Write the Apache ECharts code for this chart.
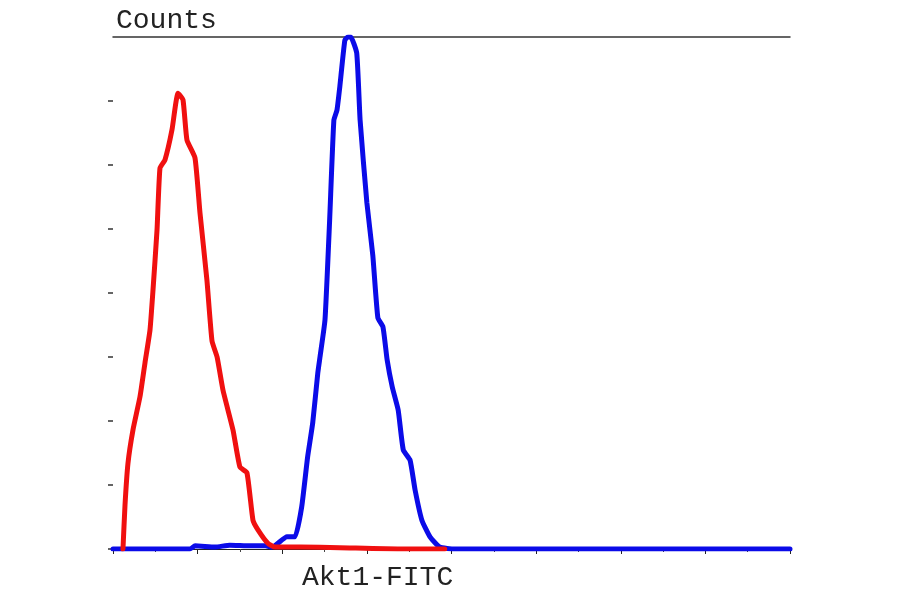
<!DOCTYPE html>
<html>
<head>
<meta charset="utf-8">
<title>Akt1-FITC</title>
<script src="https://cdn.jsdelivr.net/npm/echarts@6/dist/echarts.min.js"></script>
<style>
  html, body { margin: 0; padding: 0; background: #fff; }
  #chart { width: 900px; height: 594px; }
</style>
</head>
<body>
<div id="chart"></div>
<script>
// fluorescence (arbitrary units, 0-800) vs counts (0-800)
const redX = [11.8, 14.2, 17.7, 23.6, 31.9, 37.8, 43.7, 47.3, 52, 55.5, 61.4, 69.7, 76.8, 82.7, 87.4, 96.9,
  102.8, 111, 117, 123, 130, 141.8, 150, 158.3, 165.4, 171.3, 183, 191.4, 221, 268, 339, 392];
const redY = [0, 69, 134, 186, 238, 291, 342, 405, 498, 595, 608, 655, 712, 702, 639, 611,
  525, 420, 325, 300, 248, 186, 128, 119, 45, 30, 9, 3, 3, 2, 0, 0];

const blueX = [0, 91, 97, 120.5, 138, 162, 180, 188, 205.6, 215, 223, 230, 236, 242, 244.6, 250.5,
  256, 261, 264.7, 268, 274, 277.7, 281, 288, 292, 300, 307, 313, 319, 324, 330, 337, 343, 351,
  357, 365, 374.6, 386, 404, 800];
const blueY = [0, 0, 5, 3, 6, 5, 5, 3, 19, 19, 66, 144, 197, 275, 300, 358,
  514, 670, 686, 722, 795, 800, 800, 775, 670, 541, 459, 361, 347, 295, 253, 217, 155, 139,
  92, 45, 19, 3, 0, 0];

// count ticks on the left, the top one is left off
const yTickValues = [0, 100, 200, 300, 400, 500, 600, 700];
const xTicks = 100;

const pairs = (xs, ys) => xs.map((x, i) => [x, ys[i]]);

const chart = echarts.init(document.getElementById('chart'));

const option = {
  animation: false,
  backgroundColor: '#fff',
  grid: { left: 113, right: 110, top: 37, bottom: 45 },
  xAxis: [
    {
      type: 'value',
      min: 0,
      max: 800,
      interval: xTicks,
      position: 'bottom',
      axisLine: { show: true, lineStyle: { color: '#222', width: 1 } },
      axisTick: { show: true, length: 5, lineStyle: { color: '#222', width: 1 } },
      minorTick: { show: true, splitNumber: 2, length: 3, lineStyle: { color: '#444', width: 1 } },
      axisLabel: { show: false },
      splitLine: { show: false }
    },
    {
      type: 'value',
      min: 0,
      max: 800,
      position: 'top',
      axisLine: { show: true, lineStyle: { color: '#333', width: 1.5 } },
      axisTick: { show: false },
      axisLabel: { show: false },
      splitLine: { show: false }
    }
  ],
  yAxis: {
    type: 'value',
    min: 0,
    max: 800,
    interval: 100,
    axisLine: { show: false },
    axisTick: { show: true, length: 5, customValues: yTickValues, lineStyle: { color: '#333', width: 1.5 } },
    axisLabel: { show: false },
    splitLine: { show: false }
  },
  series: [
    {
      name: 'Akt1',
      type: 'line',
      data: pairs(blueX, blueY),
      showSymbol: false,
      smooth: 0.15,
      lineStyle: { color: '#0b0be8', width: 5, join: 'round', cap: 'round' },
      z: 2
    },
    {
      name: 'Control',
      type: 'line',
      data: pairs(redX, redY),
      showSymbol: false,
      smooth: 0.15,
      lineStyle: { color: '#f01010', width: 5, join: 'round', cap: 'round' },
      z: 3
    }
  ],
  graphic: [
    {
      type: 'text',
      left: 116,
      top: 7,
      style: { text: 'Counts', fill: '#222', font: '28px "Liberation Mono", "DejaVu Sans Mono", monospace' }
    },
    {
      type: 'text',
      left: 302,
      top: 564,
      style: { text: 'Akt1-FITC', fill: '#222', font: '28px "Liberation Mono", "DejaVu Sans Mono", monospace' }
    }
  ]
};

chart.setOption(option);
</script>
</body>
</html>
